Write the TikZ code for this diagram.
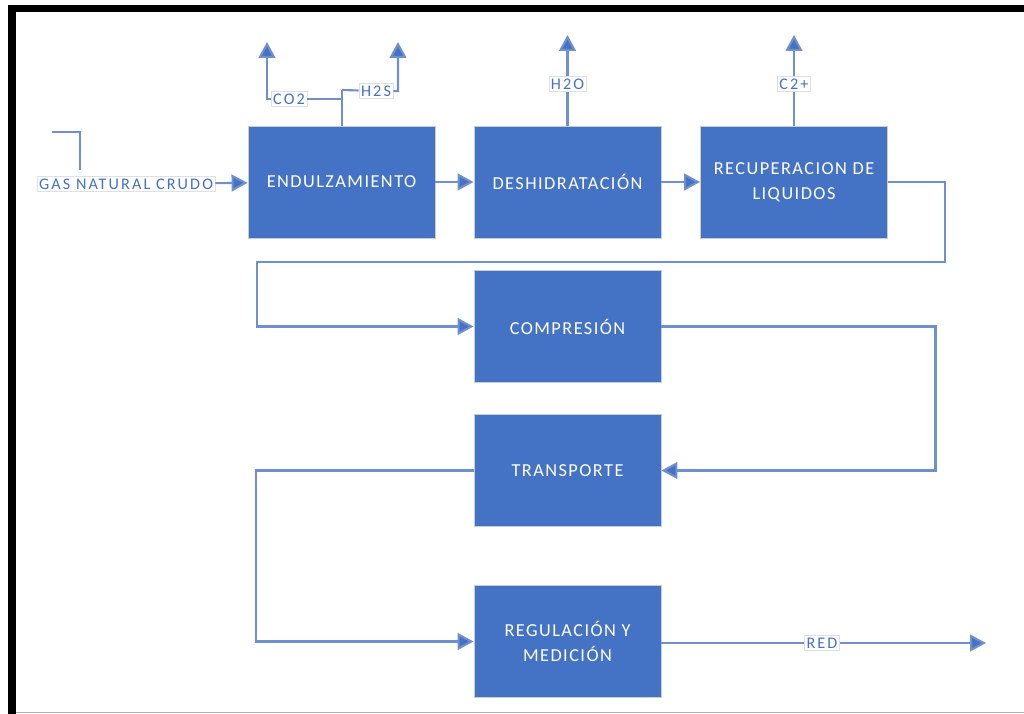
\documentclass[tikz,border=0pt]{standalone}
\usepackage{fontspec}
\setmainfont{Carlito}
\newfontfamily\cajafont[LetterSpace=8]{Carlito}
\newfontfamily\etiqfont[LetterSpace=13]{Carlito}
\usetikzlibrary{arrows.meta}
\definecolor{azul}{HTML}{4472C4}
\definecolor{azulclaro}{HTML}{6F8FCF}
\definecolor{borde}{HTML}{C8CCD4}
\begin{document}
\begin{tikzpicture}[x=0.025cm,y=-0.025cm,
    caja/.style={rectangle,fill=azul,draw=borde,line width=0.6pt,minimum width=4.675cm,minimum height=2.8cm,
      text=white,align=center,font={\cajafont\fontsize{13}{17.7}\selectfont}},
    etiqueta/.style={rectangle,fill=white,draw=borde!60,line width=0.4pt,text=azul,inner sep=1.5pt,
      font={\etiqfont\fontsize{11.5}{13}\selectfont}},
    linea/.style={draw=azulclaro,line width=1.5pt},
    flecha/.style={linea,-{Triangle[length=0.4cm,width=0.42cm,fill=azul]}}]
    \useasboundingbox (0,0) rectangle (1024,714);
    \fill [black] (8,5) rectangle (1024,12);
    \fill [black] (8,5) rectangle (16,714);
    \draw [black!30,line width=0.8pt] (16,712.5) -- (1024,712.5);
    \node [caja] (endul) at (341.5,182) {ENDULZAMIENTO};
    \node [caja] (deshi) at (567.5,182) {DESHIDRATACIÓN};
    \node [caja] (recup) at (794,182) {RECUPERACION DE\\LIQUIDOS};
    \node [caja] (comp) at (567.5,326.5) {COMPRESIÓN};
    \node [caja] (trans) at (567.5,470.5) {TRANSPORTE};
    \node [caja] (regul) at (567.5,641.5) {REGULACIÓN Y\\MEDICIÓN};
    \node [etiqueta] (gas) at (126,184) {GAS NATURAL CRUDO};
    \node [etiqueta] (co2) at (289,99) {CO2};
    \node [etiqueta] (h2s) at (376,91) {H2S};
    \node [etiqueta] (h2o) at (567.5,84) {H2O};
    \node [etiqueta] (c2) at (794,84) {C2+};
    \node [etiqueta] (red) at (822,643) {RED};
    \coordinate (nudoa) at (342,99);
    \coordinate (nudob) at (342,90);
    \coordinate (finco2) at (267,42);
    \coordinate (finh2s) at (398,42);
    \coordinate (finh2o) at (567.5,35);
    \coordinate (finc2) at (794,35);
    \coordinate (finred) at (986,643);
    \coordinate (cabo1) at (52,132);
    \coordinate (cabo2) at (80,170);
    \draw [linea] (cabo1) -| (cabo2);
    \draw [flecha] (gas) -- (endul);
    \draw [flecha] (endul) -- (deshi);
    \draw [flecha] (deshi) -- (recup);
    \draw [linea] (endul.north -| nudob) -- (nudob);
    \draw [flecha] (nudoa) -- (co2) -| (finco2);
    \draw [flecha] (nudob) -- (h2s) -| (finh2s);
    \draw [flecha] (deshi.north) -- (h2o) -- (finh2o);
    \draw [flecha] (recup.north) -- (c2) -- (finc2);
    \draw [flecha] (recup.east) -| (945,262) -- (257,262) |- (comp.west);
    \draw [flecha] (comp.east) -- ++(274,0) |- (trans.east);
    \draw [flecha] (trans.west) -- ++(-218,0) |- (regul.west);
    \draw [flecha] (regul.east |- red) -- (red) -- (finred);
\end{tikzpicture}
\end{document}
